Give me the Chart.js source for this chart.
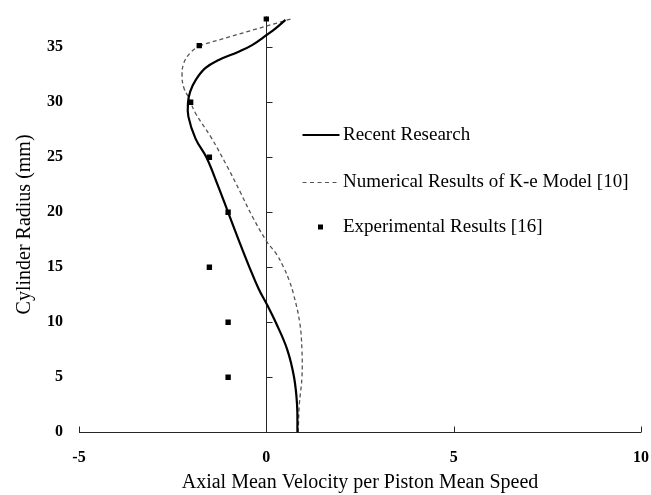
<!DOCTYPE html>
<html><head><meta charset="utf-8">
<script src="https://cdn.jsdelivr.net/npm/chart.js@4.4.1/dist/chart.umd.min.js"></script>
<style>html,body{margin:0;padding:0;background:#fff}</style>
</head><body>
<canvas id="c" width="651" height="495"></canvas>
<script>
// ---- data ----
const xTicks = [-5, 0, 5, 10];
const yTicks = [0, 5, 10, 15, 20, 25, 30, 35];

// Recent Research (solid): velocity vs radius
const recentV = [0.83, 0.82, 0.74, 0.56, 0.25, 0.02, -0.2, -0.45, -0.74, -1.02, -1.3, -1.6, -1.89, -2.08, -2.09, -2.03, -1.89, -1.63, -1.27, -0.74, -0.38, 0.0, 0.24, 0.51];
const recentR = [0, 2.5, 5, 7.5, 10, 11.6, 13, 15, 17.5, 20, 22.5, 25, 26.7, 28.7, 30, 31, 32, 33.1, 33.85, 34.6, 35.2, 36.1, 36.7, 37.5];

// Numerical Results of K-e Model (dashed)
const keV = [0.85, 0.88, 0.95, 0.95, 0.89, 0.73, 0.61, 0.46, 0.27, 0.02, -0.37, -0.69, -1.05, -1.49, -1.89, -2.07, -2.2, -2.25, -2.2, -2.03, -1.79];
const keR = [0, 2.5, 5, 7.5, 10, 12.5, 13.8, 15, 16.2, 17.3, 19.6, 21.8, 24.2, 26.9, 29, 30.4, 31.3, 32.4, 33.6, 34.5, 35.15];
const keTopV = [-1.79, 0.68];
const keTopR = [35.15, 37.6];

// Experimental Results
const expV = [0, -1.79, -2.02, -1.52, -1.02, -1.52, -1.02, -1.02];
const expR = [37.6, 35.15, 30, 25, 20, 15, 10, 5];

const legendLabels = ['Recent Research', 'Numerical Results of K-e Model [10]', 'Experimental Results [16]'];
const xTitle = 'Axial Mean Velocity per Piston Mean Speed';
const yTitle = 'Cylinder Radius (mm)';

const pts = (xs, ys) => xs.map((v, i) => ({x: v, y: ys[i]}));
const SERIF = '"Liberation Serif", "Times New Roman", serif';

const axesPlugin = {
  id: 'axesPlugin',
  beforeDatasetsDraw(chart) {
    const {ctx, scales: {x, y}} = chart;
    ctx.save();
    ctx.strokeStyle = '#262626';
    ctx.lineWidth = 1;
    const y0 = Math.round(y.getPixelForValue(0)) + 0.5;
    const x0 = Math.round(x.getPixelForValue(0)) + 0.5;
    ctx.beginPath();
    ctx.moveTo(x.getPixelForValue(xTicks[0]), y0);
    ctx.lineTo(x.getPixelForValue(xTicks[xTicks.length - 1]), y0);
    xTicks.forEach(v => {
      const px = Math.round(x.getPixelForValue(v)) + 0.5;
      ctx.moveTo(px, y0);
      ctx.lineTo(px, y0 - 6);
    });
    ctx.moveTo(x0, y0);
    ctx.lineTo(x0, y.getPixelForValue(y.max));
    yTicks.filter(v => v > 0).forEach(v => {
      const py = Math.round(y.getPixelForValue(v)) + 0.5;
      ctx.moveTo(x0, py);
      ctx.lineTo(x0 + 6, py);
    });
    ctx.stroke();
    ctx.restore();
  }
};

const legendPlugin = {
  id: 'customLegend',
  afterDraw(chart) {
    const ctx = chart.ctx;
    const lx1 = 302.5, lx2 = 339.5, tx = 343;
    const rows = [135, 182, 227];
    ctx.save();
    ctx.font = '19px ' + SERIF;
    ctx.fillStyle = '#000';
    ctx.textBaseline = 'middle';
    ctx.textAlign = 'left';
    ctx.strokeStyle = '#000'; ctx.lineWidth = 2; ctx.setLineDash([]);
    ctx.beginPath(); ctx.moveTo(lx1, rows[0]); ctx.lineTo(lx2, rows[0]); ctx.stroke();
    ctx.strokeStyle = '#555'; ctx.lineWidth = 1; ctx.setLineDash([4, 3.5]);
    ctx.beginPath(); ctx.moveTo(lx1, rows[1] + 0.5); ctx.lineTo(lx2, rows[1] + 0.5); ctx.stroke();
    ctx.setLineDash([]);
    ctx.fillRect(318, rows[2] - 2.5, 5, 5);
    legendLabels.forEach((t, i) => ctx.fillText(t, tx, rows[i]));
    ctx.restore();
  }
};

const noPad = s => { s.paddingLeft = 0; s.paddingRight = 0; s.paddingTop = 0; s.paddingBottom = 0; };

new Chart(document.getElementById('c'), {
  type: 'scatter',
  data: {
    datasets: [
      {
        label: legendLabels[2],
        data: pts(expV, expR),
        showLine: false,
        pointStyle: 'rect',
        pointRadius: 3.8,
        backgroundColor: '#000',
        borderColor: '#000',
        borderWidth: 0
      },
      {
        label: legendLabels[0],
        data: pts(recentV, recentR),
        showLine: true,
        tension: 0.4,
        borderColor: '#000',
        borderWidth: 2.2,
        pointRadius: 0,
        fill: false
      },
      {
        label: legendLabels[1],
        data: pts(keV, keR),
        showLine: true,
        tension: 0.4,
        borderColor: '#555',
        borderWidth: 1.3,
        borderDash: [4, 3],
        pointRadius: 0,
        fill: false
      },
      {
        label: legendLabels[1] + ' (upper)',
        data: pts(keTopV, keTopR),
        showLine: true,
        tension: 0,
        borderColor: '#555',
        borderWidth: 1.3,
        borderDash: [4, 3],
        pointRadius: 0,
        fill: false
      }
    ]
  },
  options: {
    responsive: false,
    animation: false,
    layout: {padding: {top: 16.5, right: 10, left: 0, bottom: 0}},
    plugins: {legend: {display: false}, tooltip: {enabled: false}},
    scales: {
      x: {
        type: 'linear', position: 'bottom',
        min: -5, max: 10,
        afterBuildTicks: s => { s.ticks = xTicks.map(v => ({value: v})); },
        afterFit: s => { s.height = 62.7; noPad(s); },
        grid: {display: false, drawTicks: false},
        border: {display: false},
        ticks: {padding: 16, color: '#000', font: {family: SERIF, size: 16, weight: 'bold'}},
        title: {display: true, text: xTitle, color: '#000', font: {family: SERIF, size: 20}, padding: {top: 0, bottom: 0}}
      },
      y: {
        type: 'linear', position: 'left',
        min: 0, max: 37.8,
        afterBuildTicks: s => { s.ticks = yTicks.map(v => ({value: v})); },
        afterFit: s => { s.width = 79; noPad(s); },
        grid: {display: false, drawTicks: false},
        border: {display: false},
        ticks: {padding: 16, color: '#000', font: {family: SERIF, size: 16, weight: 'bold'}},
        title: {display: true, text: yTitle, color: '#000', font: {family: SERIF, size: 20}, padding: {top: 13, bottom: 0}}
      }
    }
  },
  plugins: [axesPlugin, legendPlugin]
});
</script>
</body></html>
